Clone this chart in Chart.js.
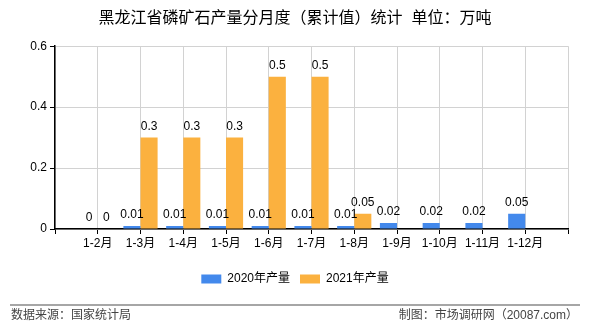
<!DOCTYPE html>
<html>
<head>
<meta charset="utf-8">
<script src="https://cdn.jsdelivr.net/npm/chart.js@4"></script>
<style>
  body { margin: 0; background: #fff; }
  #wrap { width: 590px; height: 330px; position: relative; }
</style>
</head>
<body>
<div id="wrap"><canvas id="chart"></canvas></div>
<script>
const months = ['1-2月', '1-3月', '1-4月', '1-5月', '1-6月', '1-7月', '1-8月', '1-9月', '1-10月', '1-11月', '1-12月'];
const output2020 = [0, 0.01, 0.01, 0.01, 0.01, 0.01, 0.01, 0.02, 0.02, 0.02, 0.05];
const output2021 = [0, 0.3, 0.3, 0.3, 0.5, 0.5, 0.05, null, null, null, null];
const yTicks = [0, 0.2, 0.4, 0.6];

const FONT = "'Liberation Sans', 'Noto Sans CJK SC', sans-serif";

// empty slot at each end so the category lines sit on the gridlines
const labels = [''].concat(months, ['']);
const pad = arr => [null].concat(arr, [null]);

const valueLabels = {
    id: 'valueLabels',
    afterDatasetsDraw(chart) {
        const ctx = chart.ctx;
        ctx.save();
        ctx.font = '12px ' + FONT;
        ctx.fillStyle = '#000';
        ctx.textAlign = 'center';
        ctx.textBaseline = 'bottom';
        chart.data.datasets.forEach((ds, i) => {
            chart.getDatasetMeta(i).data.forEach((bar, j) => {
                const v = ds.data[j];
                if (v === null || v === undefined) return;
                ctx.fillText(String(v), bar.x, bar.y - 5);
            });
        });
        ctx.restore();
    }
};

const footer = {
    id: 'footer',
    afterDraw(chart) {
        const ctx = chart.ctx;
        ctx.save();
        ctx.strokeStyle = '#888';
        ctx.lineWidth = 1.5;
        ctx.beginPath();
        ctx.moveTo(10, 305);
        ctx.lineTo(580, 305);
        ctx.stroke();
        ctx.font = '12px ' + FONT;
        ctx.fillStyle = '#444';
        ctx.textBaseline = 'middle';
        ctx.textAlign = 'left';
        ctx.fillText('数据来源：国家统计局', 11, 316);
        ctx.textAlign = 'right';
        ctx.fillText('制图：市场调研网（20087.com）', 578, 316);
        ctx.restore();
    }
};

new Chart(document.getElementById('chart'), {
    type: 'bar',
    data: {
        labels: labels,
        datasets: [
            { label: '2020年产量', data: pad(output2020), backgroundColor: '#4389ec' },
            { label: '2021年产量', data: pad(output2021), backgroundColor: '#fbb13f' }
        ]
    },
    options: {
        responsive: true,
        maintainAspectRatio: false,
        animation: false,
        events: [],
        categoryPercentage: 0.8,
        barPercentage: 1,
        layout: { padding: { left: 22, right: 22, bottom: 35 } },
        scales: {
            x: {
                offset: false,
                grid: { color: '#d2d2d2', tickColor: '#000', tickLength: 5, offset: false },
                border: { color: '#000', width: 1.5 },
                ticks: { color: '#000', font: { size: 12, family: FONT }, padding: 2, maxRotation: 0, autoSkip: false },
                afterFit: s => { s.height = 34; }
            },
            y: {
                min: 0,
                max: 0.6,
                grid: { color: '#d2d2d2', tickColor: '#000', tickLength: 5 },
                border: { color: '#000', width: 1.5 },
                ticks: {
                    color: '#000',
                    font: { size: 12, family: FONT },
                    padding: 3,
                    stepSize: 0.2,
                    callback: v => yTicks.includes(Math.round(v * 10) / 10) ? String(Math.round(v * 10) / 10) : ''
                },
                afterFit: s => { s.width = 33; }
            }
        },
        plugins: {
            title: {
                display: true,
                text: '黑龙江省磷矿石产量分月度（累计值）统计  单位：万吨',
                color: '#000',
                font: { size: 16, weight: 'normal', family: FONT },
                padding: { top: 9, bottom: 18 }
            },
            legend: {
                position: 'bottom',
                labels: {
                    color: '#000',
                    font: { size: 12, family: FONT },
                    boxWidth: 20,
                    boxHeight: 9,
                    padding: 10
                }
            },
            tooltip: { enabled: false }
        }
    },
    plugins: [valueLabels, footer]
});
</script>
</body>
</html>
